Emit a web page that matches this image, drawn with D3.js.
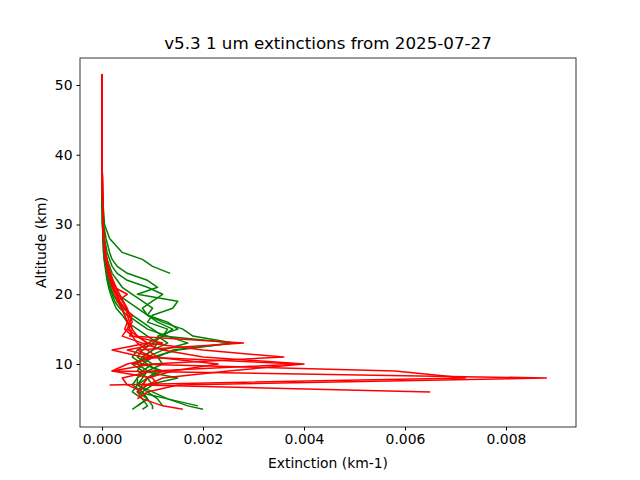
<!DOCTYPE html>
<html><head><meta charset="utf-8">
<script src="https://cdn.jsdelivr.net/npm/d3@7"></script>
<style>body{margin:0;background:#fff}text{font-family:"DejaVu Sans",sans-serif}</style>
</head><body><svg id="chart" width="640" height="480"></svg>
<script>
// altitude grid (km), shared by every profile
const altitudes = [51.5,45,40,35,30,28,26,25,24,23,22,21,20,19,18,17,16,15,14,13,12,11,10,9,8,7,6,5,4,3.5];
// extinction values in 1e-3 km-1, null = no data
const greenProfiles = [
  [0,0,0,0,0.05,0.15,0.4,0.8,1.0,1.35,null,null,null,null,null,null,null,null,null,null,null,null,null,null,null,null,null,null,null,null],
  [0,0,0,0,0.03,0.08,0.15,0.2,0.3,0.5,0.9,1.1,0.7,1.5,1.4,1.0,0.9,1.3,1.2,2.6,1.5,1.0,0.8,1.2,0.9,0.7,1.0,1.3,1.9,null],
  [0,0,0,0,0.02,0.05,0.1,0.15,0.2,0.3,0.5,0.9,1.2,1.0,0.8,0.9,1.3,1.5,1.1,1.3,1.0,0.8,0.7,0.9,0.7,0.6,0.8,0.9,0.7,0.6],
  [0,0,0,0,0.02,0.04,0.07,0.1,0.15,0.2,0.3,0.4,0.6,0.8,1.0,0.9,1.1,1.4,1.2,1.0,0.8,0.7,0.9,1.1,0.9,1.0,0.8,0.9,1.0,1.0],
  [0,0,0,0,0.01,0.03,0.05,0.07,0.1,0.12,0.15,0.2,0.3,0.5,0.7,0.9,1.2,1.6,1.8,2.6,1.4,1.1,1.2,0.9,0.8,0.7,0.9,1.1,1.2,null],
  [0,0,0,0,0.01,0.02,0.04,0.06,0.08,0.1,0.13,0.17,0.22,0.3,0.4,0.6,0.8,1.0,1.2,0.9,0.7,0.6,0.8,0.7,0.9,0.8,0.7,0.9,0.7,null],
  [0,0,0,0,0.01,0.02,0.03,0.05,0.07,0.09,0.12,0.15,0.2,0.25,0.35,0.5,0.7,0.9,1.3,1.7,1.2,0.9,0.6,0.8,0.7,0.7,0.6,0.8,0.9,0.8],
  [0,0,0,0,0.01,0.02,0.03,0.04,0.06,0.08,0.1,0.13,0.17,0.22,0.28,0.4,0.5,0.7,0.9,1.1,1.0,0.8,1.0,0.8,1.5,0.9,0.7,1.3,1.7,2.0]
];
const redProfiles = [
  [0,0,0,0.01,0.02,0.04,0.07,0.1,0.13,0.17,0.22,0.28,0.35,0.42,0.5,0.55,0.6,0.5,0.4,0.8,1.2,2.0,4.0,2.5,1.2,0.9,0.7,0.8,1.2,1.6],
  [0,0,0,0.01,0.02,0.04,0.06,0.09,0.12,0.16,0.2,0.26,0.32,0.4,0.48,0.5,0.55,0.6,0.7,0.9,2.0,3.6,1.0,0.2,8.8,1.5,0.9,0.7,null,null],
  [0,0,0,0.01,0.02,0.03,0.06,0.08,0.11,0.14,0.18,0.22,0.3,0.35,0.45,0.55,0.5,0.45,0.6,1.2,0.5,1.0,0.6,5.8,7.2,0.15,null,null,null,null],
  [0,0,0,0.01,0.02,0.03,0.05,0.07,0.1,0.13,0.17,0.22,0.28,0.34,0.4,0.45,0.5,0.6,0.55,2.8,0.7,1.0,2.3,1.4,0.9,0.8,6.5,null,null,null],
  [0,0,0,0.01,0.02,0.04,0.06,0.08,0.11,0.15,0.19,0.24,0.5,0.3,0.45,0.6,0.55,0.5,0.7,0.9,0.2,0.8,3.9,1.0,0.4,0.5,0.8,null,null,null],
  [0,0,0,0.01,0.02,0.03,0.05,0.07,0.09,0.12,0.16,0.2,0.25,0.32,0.38,0.45,0.5,0.55,0.6,0.7,0.9,1.1,0.5,0.2,1.0,1.1,null,null,null,null]
];
const xTicks = [0,0.002,0.004,0.006,0.008];
const yTicks = [10,20,30,40,50];

const svg = d3.select("#chart");
const L = 80, R = 576, T = 58, B = 427;
const x = d3.scaleLinear().domain([-0.000436, 0.009386]).range([L, R]);
const y = d3.scaleLinear().domain([0.97, 53.87]).range([B, T]);

const line = d3.line()
  .defined(d => d[0] !== null)
  .x(d => x(d[0] * 1e-3)).y(d => y(d[1]));

function draw(profiles, color) {
  profiles.forEach(p => {
    svg.append("path")
      .datum(p.map((v, i) => [v, altitudes[i]]))
      .attr("d", line).attr("fill", "none")
      .attr("stroke", color).attr("stroke-width", 1.5)
      .attr("stroke-linejoin", "round");
  });
}
draw(greenProfiles, "#008000");
draw(redProfiles, "#ff0000");

svg.append("rect").attr("x", L).attr("y", T).attr("width", R - L).attr("height", B - T)
  .attr("fill", "none").attr("stroke", "#000").attr("stroke-width", 0.8);

svg.append("g").attr("transform", `translate(0,${B})`)
  .call(d3.axisBottom(x).tickValues(xTicks).tickFormat(d3.format(".3f")).tickSizeOuter(0).tickSize(3.5).tickPadding(4))
  .call(g => g.select(".domain").remove())
  .call(g => g.selectAll("text").attr("font-size", 13.9).attr("fill", "#000"));
svg.append("g").attr("transform", `translate(${L},0)`)
  .call(d3.axisLeft(y).tickValues(yTicks).tickSizeOuter(0).tickSize(3.5).tickPadding(4))
  .call(g => g.select(".domain").remove())
  .call(g => g.selectAll("text").attr("font-size", 13.9).attr("fill", "#000"));

svg.append("text").attr("x", (L + R) / 2).attr("y", 49).attr("text-anchor", "middle")
  .attr("font-size", 16.7).text("v5.3 1 um extinctions from 2025-07-27");
svg.append("text").attr("x", (L + R) / 2).attr("y", 468).attr("text-anchor", "middle")
  .attr("font-size", 13.9).text("Extinction (km-1)");
svg.append("text").attr("transform", `translate(46,${(T + B) / 2}) rotate(-90)`)
  .attr("text-anchor", "middle").attr("font-size", 13.9).text("Altitude (km)");
</script></body></html>
